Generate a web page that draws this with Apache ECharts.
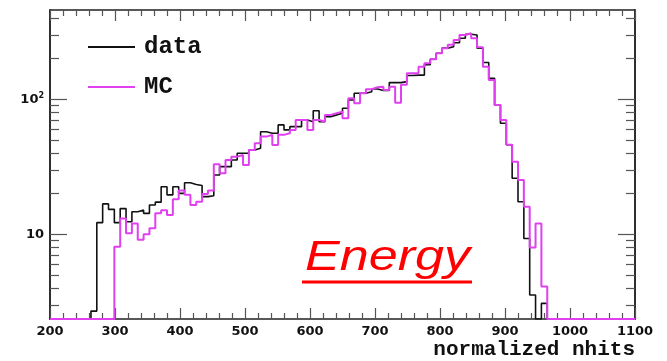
<!DOCTYPE html>
<html>
<head>
<meta charset="utf-8">
<script src="https://cdn.jsdelivr.net/npm/echarts@6/dist/echarts.min.js"></script>
<style>
html,body{margin:0;padding:0;background:#fff;}
#chart{width:667px;height:361px;}
</style>
</head>
<body>
<div id="chart"></div>
<script>
// Histogram definition: 100 bins from 200 to 1100
const xMin = 200, xMax = 1100, nBins = 100;
const yMin = 2.36, yMax = 458;

// bin contents (data, black)
const dataCounts = [
  0,0,0,0,0,0,0,2.7,12.2,16.8,
  15.3,12.2,15.5,12.4,14.7,15.1,14.3,16.5,17.3,22.5,
  19.6,22.5,20.1,24.1,23.4,23,19,19.3,27.5,31.7,
  31.7,35.5,39.8,39.8,42.1,43.4,57.5,56,56,64.6,
  59.3,62.7,62.7,70.3,68.2,82.3,68.2,74.3,76.6,78.8,
  85.7,98.8,110.8,110.8,113.8,119,116,116,132.8,132.8,
  135,150,151,151,180,198,219,239,245,262,
  283,303,299,239,187,143,90.7,66.4,46,26,
  17.4,9.3,3.55,0,3.08,0,0,0,0,0,
  0,0,0,0,0,0,0,0,0,0
];
// bin contents (MC, magenta)
const mcCounts = [
  0,0,0,0,0,0,0,0,0,0,
  0,8.1,13.1,10.2,12.0,9.1,10.0,11.1,14.3,15.1,
  13.9,18.2,21.1,19.6,16.5,17.4,19.9,21.1,33,28.3,
  35.5,37.6,38.7,32.6,42.1,47.2,52.9,54.5,45.8,54.5,
  56,59.3,70.3,70.3,59.3,70.3,68.2,76.6,78.8,81,
  72.3,101.7,93.4,110.8,118.6,122.7,124,117,124,94.4,
  128,156,156,174,185,198,219,239,253,275,
  299,308,283,243,174,139,90.7,70.3,46,34.5,
  25.2,16,8.0,12.0,4.1,0,0,0,0,0,
  0,0,0,0,0,0,0,0,0,0
];

const xTickInterval = 100;
const yMajorTicks = [10, 100];
const yMinorTicks = [3,4,5,6,7,8,9,20,30,40,50,60,70,80,90,200,300,400];
const seriesNames = ['data', 'MC'];
const xTitle = 'normalized nhits';
const overlayText = 'Energy';

const binW = (xMax - xMin) / nBins;
function histPoints(counts) {
  const pts = [];
  for (let i = 0; i < counts.length; i++) {
    pts.push([xMin + i * binW, Math.max(counts[i], yMin)]);
  }
  pts.push([xMax, Math.max(counts[counts.length - 1], yMin)]);
  return pts;
}

const chart = echarts.init(document.getElementById('chart'), null, {renderer: 'canvas'});
const lineCol = '#222';
const tickCol = '#555';
const labelFont = {fontFamily: 'DejaVu Sans', fontWeight: 'bold', fontSize: 13, color: '#111'};

function xAx(pos, showLabels) {
  return {
    type: 'value', position: pos, min: xMin, max: xMax, interval: xTickInterval,
    axisLine: {show: true, onZero: false, lineStyle: {color: lineCol, width: 1.5}},
    axisTick: {show: true, inside: true, length: 11, lineStyle: {color: tickCol, width: 1.2}},
    minorTick: {show: true, splitNumber: 5, length: 6, lineStyle: {color: tickCol, width: 1.2}},
    axisLabel: Object.assign({show: showLabels, margin: 6, formatter: function (v) { return String(v); }}, labelFont),
    splitLine: {show: false}
  };
}
function yAx(pos, major, showLabels) {
  const vals = major ? yMajorTicks : yMinorTicks;
  return {
    type: 'log', logBase: 10, position: pos, min: yMin, max: yMax,
    axisLine: {show: true, onZero: false, lineStyle: {color: lineCol, width: 1.5}},
    axisTick: {show: true, inside: true, length: major ? 17 : 9, customValues: vals, lineStyle: {color: tickCol, width: 1.2}},
    axisLabel: Object.assign({
      show: showLabels, margin: 6, customValues: yMajorTicks,
      formatter: function (v) { return v >= 99 ? '10{s|2}' : '10'; },
      rich: {s: {fontFamily: 'DejaVu Sans', fontWeight: 'bold', fontSize: 8, verticalAlign: 'top', color: '#111', padding: [0,0,6,0]}}
    }, labelFont),
    splitLine: {show: false},
    minorTick: {show: false}
  };
}

chart.setOption({
  animation: false,
  backgroundColor: '#fff',
  grid: {left: 50, right: 32, top: 10, bottom: 42, containLabel: false},
  title: {
    text: xTitle, right: 32, top: 339, padding: 0,
    textStyle: {fontFamily: 'Liberation Mono', fontWeight: 'bold', fontSize: 21, color: '#111'}
  },
  legend: {
    orient: 'vertical', left: 88, top: 35, itemGap: 16, padding: 0,
    itemWidth: 47, itemHeight: 2, icon: 'rect',
    data: seriesNames,
    textStyle: {fontFamily: 'Liberation Mono', fontWeight: 'bold', fontSize: 24, color: '#111', padding: [0,0,0,4]}
  },
  xAxis: [xAx('bottom', true), xAx('top', false)],
  yAxis: [yAx('left', true, true), yAx('left', false, false), yAx('right', true, false), yAx('right', false, false)],
  series: [
    {name: seriesNames[0], type: 'line', step: 'end', symbol: 'none', data: histPoints(dataCounts),
     color: '#111', lineStyle: {color: '#111', width: 1.6}, clip: true, z: 2},
    {name: seriesNames[1], type: 'line', step: 'end', symbol: 'none', data: histPoints(mcCounts),
     color: '#e040f0', lineStyle: {color: '#e040f0', width: 2}, clip: true, z: 3}
  ],
  graphic: [
    {type: 'text', x: 305, y: 279, scaleX: 1.24, style: {text: overlayText, fill: '#ff0000',
      font: 'italic 42px "Liberation Sans"', textAlign: 'left', textVerticalAlign: 'bottom'}, z: 10},
    {type: 'rect', shape: {x: 302, y: 280.5, width: 170, height: 3}, style: {fill: '#ff0000'}, z: 10}
  ]
});
</script>
</body>
</html>
